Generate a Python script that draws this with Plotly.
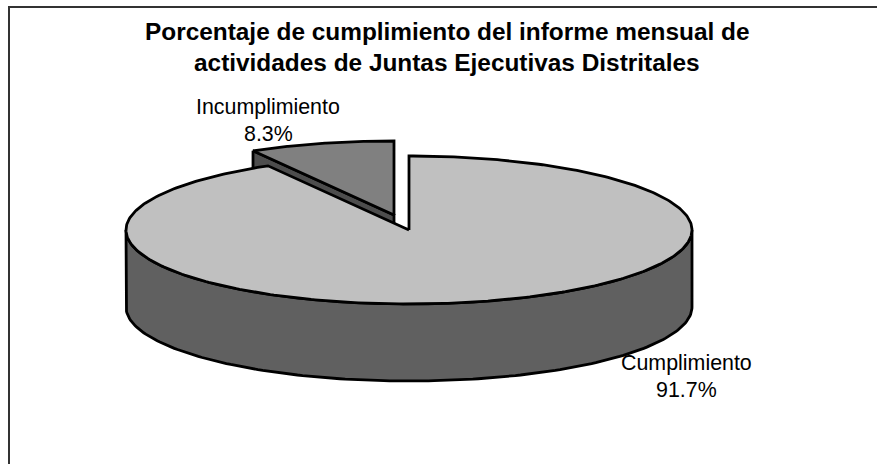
import numpy as np
import plotly.graph_objects as go

categories = ["Cumplimiento", "Incumplimiento"]
values = [91.7, 8.3]
title_lines = ["Porcentaje de cumplimiento del informe mensual de",
               "actividades de Juntas Ejecutivas Distritales"]

W, H = 877, 464
CX, CY, RX, RY, DEPTH = 409, 230, 283, 74, 77
EXPLODE = (-15, -15)
OUT = dict(color="#000000", width=2.8)
FONT = "Liberation Sans, Arial, sans-serif"

share = values[1] / sum(values)
a_small = 2 * np.pi * share


def arc(cx, cy, a0, a1, n=160):
    """Angles run clockwise from 12 o'clock."""
    t = np.linspace(a0, a1, n)
    return cx + RX * np.sin(t), cy - RY * np.cos(t)


fig = go.Figure()


def poly(x, y, fill, line=OUT):
    fig.add_trace(go.Scatter(x=list(x), y=list(y), mode="lines", fill="toself", fillcolor=fill,
                             line=line, hoverinfo="skip", showlegend=False))


# Exploded small slice: cut face, then top face
sx, sy = CX + EXPLODE[0], CY + EXPLODE[1]
ax, ay = arc(sx, sy, -a_small, 0)
poly([ax[0], sx, sx, ax[0], ax[0]], [ay[0], sy, sy + DEPTH, ay[0] + DEPTH, ay[0]], "#4d4d4d")
poly(np.r_[sx, ax, sx], np.r_[sy, ay, sy], "#808080")

# Main slice: wall, then top face
wx, wy = arc(CX, CY, np.pi / 2, 3 * np.pi / 2)
poly(np.r_[wx, wx[::-1], wx[0]], np.r_[wy, wy[::-1] + DEPTH, wy[0]], "#606060")
mx, my = arc(CX, CY, 0, 2 * np.pi - a_small, 400)
poly(np.r_[CX, mx, CX], np.r_[CY, my, CY], "#c0c0c0")

# Chart frame: left and top edges only
fig.add_trace(go.Scatter(x=[9, 9, W], y=[H, 7, 7], mode="lines", hoverinfo="skip", showlegend=False,
                         line=dict(color="#333333", width=2)))

for line, y in zip(title_lines, (31, 62)):
    fig.add_annotation(x=447, y=y, text=f"<b>{line}</b>", showarrow=False,
                       font=dict(family=FONT, size=24.4, color="#000000"))

for name, val, x, y in zip(categories, values, (686, 268), (363, 107)):
    fig.add_annotation(x=x, y=y, text=name, showarrow=False,
                       font=dict(family=FONT, size=21.4, color="#000000"))
    fig.add_annotation(x=x, y=y + 27, text=f"{val:.1f}%", showarrow=False,
                       font=dict(family=FONT, size=21.4, color="#000000"))

fig.update_layout(width=W, height=H, margin=dict(l=0, r=0, t=0, b=0),
                  paper_bgcolor="white", plot_bgcolor="white",
                  xaxis=dict(range=[0, W], visible=False, fixedrange=True),
                  yaxis=dict(range=[H, 0], visible=False, fixedrange=True))
fig.write_html("out.html", config=dict(displayModeBar=False),
               post_script="document.body.style.margin='0';document.body.style.overflow='hidden';")
